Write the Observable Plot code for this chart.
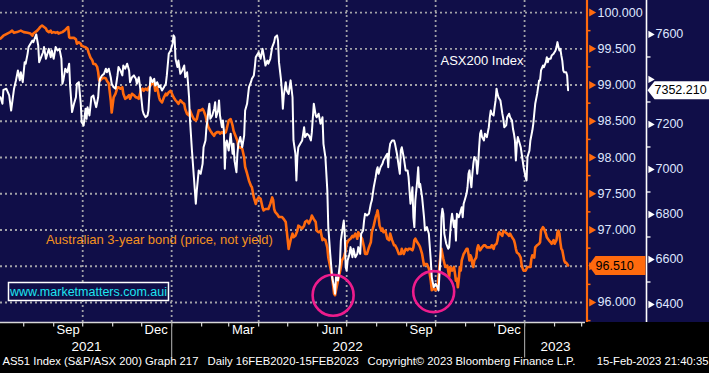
<!DOCTYPE html>
<html><head><meta charset="utf-8">
<script src="https://cdn.jsdelivr.net/npm/d3@7"></script>
<script src="https://cdn.jsdelivr.net/npm/@observablehq/plot@0.6"></script>
<style>
html,body{margin:0;padding:0;background:#000;}
#chart{width:709px;height:373px;background:linear-gradient(to bottom,#100e48 0px,#100e48 322px,#000 322px);}
svg{display:block;}
</style></head><body><div id="chart"></div>
<script>
// ---- data (days counted from 2021-07-08) ----
const startDay = Date.UTC(2021, 6, 8);
const asxDays = [
0,2,3,6,9,11,14,16,18,20,
21,23,25,26,28,29,31,33,34,37,
39,40,42,44,45,47,48,50,52,53,
55,57,59,61,63,64,65,67,69,71,
72,74,76,78,79,81,83,84,86,88,
89,90,92,94,96,98,99,101,102,103,
105,107,109,110,112,114,115,117,119,121,
122,124,126,127,129,131,133,134,136,138,
140,141,143,145,147,148,150,152,153,155,
157,159,160,162,164,165,167,169,171,172,
174,176,178,179,180,181,183,184,186,188,
190,191,193,194,195,196,198,200,202,203,
204,205,207,209,210,212,213,214,215,216,
217,219,221,222,223,225,226,227,229,230,
231,232,233,234,236,238,239,240,241,242,
244,245,246,248,250,252,253,255,257,259,
260,262,263,264,265,267,269,271,272,274,
276,277,279,281,283,284,286,287,288,290,
291,292,293,295,296,298,300,302,303,305,
306,307,308,310,312,314,315,317,319,321,
322,324,326,327,329,331,333,334,336,338,
339,341,343,345,346,347,349,351,352,354,
355,356,357,358,359,361,362,364,365,367,
369,370,372,373,375,376,377,379,381,383,
384,386,388,389,390,391,393,395,396,398,
400,401,402,403,405,407,408,410,412,413,
414,415,417,419,421,422,424,426,427,428,
429,431,432,433,434,436,438,439,441,443,
445,446,448,450,452,453,455,456,457,458,
459,461,463,464,465,466,467,469,470,471,
472,474,476,477,478,479,480,482,483,484,
485,486,487,488,489,490,492,493,494,495,
496,497,498,500,501,503,505,506,507,508,
510,511,512,513,514,515,517,519,520,521,
523,524,526,527,529,530,531,532,533,534,
535,537,538,539,540,541,543,544,545,546,
547,548,550,551,552,553,555,557,558,559,
561,562,564,565,566,567,569,570,572,574,
575,576,577,578,579,580,581,582,583,585,
586,587];
const asxValues = [
7321,7292,7354,7359,7329,7262,7359,7396,7440,7396,
7432,7388,7477,7470,7514,7544,7559,7573,7566,7600,
7551,7477,7499,7521,7544,7492,7507,7536,7499,7529,
7492,7544,7529,7536,7492,7381,7396,7448,7432,7470,
7373,7255,7292,7321,7381,7388,7292,7210,7196,7270,
7225,7277,7240,7321,7329,7292,7277,7321,7381,7403,
7418,7425,7448,7432,7448,7410,7381,7366,7359,7418,
7455,7440,7418,7462,7448,7470,7440,7388,7410,7418,
7403,7381,7410,7344,7262,7248,7232,7240,7262,7410,
7388,7403,7373,7388,7366,7373,7351,7366,7381,7418,
7514,7529,7559,7596,7588,7492,7455,7484,7425,7440,
7462,7410,7432,7381,7321,7218,7084,6966,6848,6907,
6951,6996,6981,7025,7099,7129,7188,7218,7262,7292,
7225,7240,7270,7299,7232,7262,7307,7240,7188,7218,
7173,7003,7114,7129,7084,7159,7114,7070,7114,7040,
6988,7070,7114,7144,7099,7151,7262,7292,7366,7388,
7403,7418,7455,7499,7507,7521,7492,7536,7514,7462,
7484,7470,7492,7544,7566,7588,7596,7573,7477,7403,
7351,7270,7329,7388,7351,7336,7396,7321,7129,7070,
6951,7055,7099,7114,7129,7188,7144,7159,7151,7129,
7166,7292,7240,7232,7248,7203,7232,7114,7055,6907,
6744,6625,6521,6477,6448,6521,6507,6581,6684,6744,
6773,6714,6566,6551,6596,6625,6655,6610,6648,6610,
6625,6655,6625,6714,6729,6773,6803,6796,6803,6848,
6862,6921,6966,6996,7010,6981,7010,7025,7040,7055,
7070,7010,7084,7114,7129,7129,7114,7070,7010,6981,
7084,7099,7055,6996,6996,6966,6848,6921,6788,6744,
6862,6951,7010,6921,6936,6877,6788,6729,6744,6714,
6596,6521,6477,6492,6477,6462,6610,6788,6825,6803,
6714,6670,6648,6655,6714,6773,6803,6744,6773,6684,
6803,6788,6818,6832,6788,6848,6862,6892,6921,6981,
6996,6951,6921,6981,7025,7055,7040,6981,7025,7099,
7159,7173,7144,7129,7159,7144,7188,7232,7262,7248,
7240,7277,7307,7359,7336,7321,7307,7248,7225,7188,
7196,7232,7248,7232,7218,7181,7159,7129,7040,7114,
7144,7114,7099,7070,7040,7010,6966,6951,7055,7070,
7084,7129,7173,7203,7248,7292,7336,7396,7396,7440,
7462,7455,7477,7499,7477,7492,7492,7507,7514,7529,
7544,7566,7544,7529,7536,7507,7484,7440,7432,7432,
7418,7352.21];
const bondDays = [
0,3,7,10,12,14,17,21,24,28,
31,33,34,38,40,41,43,45,47,48,
50,52,53,55,57,59,60,62,64,65,
67,69,70,71,72,76,78,79,81,83,
84,86,88,90,91,93,95,96,98,100,
101,102,103,105,107,109,110,112,114,115,
117,119,121,122,124,126,127,129,131,133,
134,136,138,140,141,143,145,147,148,150,
152,153,155,157,159,160,162,164,165,167,
169,171,172,174,176,178,179,181,183,184,
186,188,190,191,193,195,196,198,200,202,
203,205,207,209,210,212,214,215,217,219,
221,222,224,226,227,229,231,233,234,236,
238,239,240,241,243,245,246,248,250,252,
253,255,257,259,260,262,264,265,267,269,
271,272,274,276,277,279,281,282,283,284,
286,288,290,291,293,295,296,298,300,302,
303,305,307,308,310,312,314,315,317,319,
321,322,324,326,327,329,331,333,334,336,
338,339,341,343,345,346,347,349,351,352,
353,355,357,358,360,362,364,365,367,369,
370,372,374,376,377,379,381,383,384,386,
388,389,390,391,392,394,395,396,398,400,
402,403,405,407,408,410,412,414,415,417,
419,421,422,424,426,427,428,429,431,433,
434,436,438,439,441,443,445,446,448,450,
452,453,455,456,457,458,460,462,463,464,
465,467,469,470,471,472,473,474,475,476,
477,479,480,482,483,484,485,486,487,488,
489,490,492,493,494,495,496,498,500,501,
503,505,507,508,510,511,513,514,515,516,
517,519,520,522,524,526,527,529,531,532,
533,534,536,538,539,540,541,543,545,546,
548,549,550,552,553,555,557,558,559,561,
562,564,565,567,569,570,572,573,575,576,
577,578,579,580,581,583,584,585,586,587];
const bondValues = [
99.64,99.68,99.71,99.73,99.75,99.72,99.73,99.75,99.73,99.72,
99.71,99.68,99.71,99.75,99.78,99.80,99.82,99.80,99.78,99.75,
99.73,99.75,99.72,99.73,99.72,99.73,99.71,99.72,99.73,99.74,
99.76,99.79,99.80,99.66,99.65,99.65,99.63,99.57,99.59,99.57,
99.54,99.53,99.52,99.50,99.45,99.38,99.34,99.29,99.29,99.25,
99.18,99.06,99.06,99.09,99.10,99.09,99.06,99.02,98.79,98.62,
98.83,98.88,98.97,98.97,98.95,98.97,98.88,98.81,98.83,98.86,
98.81,98.88,98.86,98.83,98.83,98.81,98.92,98.95,98.92,98.95,
98.93,98.96,98.99,99.02,99.02,98.92,98.97,98.83,98.79,98.76,
98.83,98.88,98.86,98.90,98.92,98.86,98.83,98.79,98.76,98.74,
98.79,98.76,98.74,98.67,98.60,98.58,98.65,98.58,98.53,98.51,
98.53,98.65,98.65,98.67,98.65,98.58,98.46,98.42,98.37,98.33,
98.30,98.33,98.35,98.35,98.33,98.35,98.33,98.35,98.40,98.51,
98.53,98.49,98.44,98.37,98.30,98.23,98.14,98.14,98.12,98.00,
97.87,97.78,97.68,97.61,97.59,97.45,97.36,97.41,97.45,97.43,
97.31,97.27,97.29,97.29,97.29,97.36,97.45,97.41,97.29,97.25,
97.22,97.18,97.18,97.18,97.15,97.11,96.99,96.74,96.86,96.95,
96.90,96.92,96.99,97.06,97.04,97.02,97.06,97.11,97.13,97.09,
97.15,97.20,97.15,97.11,96.99,96.97,96.99,96.86,96.88,96.86,
96.76,96.62,96.49,96.35,96.12,96.10,96.17,96.30,96.42,96.49,
96.58,96.62,96.72,96.81,96.86,96.88,96.92,96.90,96.95,96.88,
96.97,96.92,96.88,96.76,96.67,96.67,96.76,96.83,96.97,97.06,
97.18,97.22,97.27,97.18,97.06,96.99,97.02,96.97,96.99,96.88,
96.86,96.95,96.86,96.79,96.79,96.74,96.67,96.67,96.74,96.67,
96.74,96.72,96.74,96.74,96.72,96.76,96.86,96.88,96.83,96.79,
96.76,96.67,96.51,96.53,96.53,96.47,96.30,96.17,96.19,96.17,
96.21,96.36,96.65,96.74,96.67,96.60,96.49,96.51,96.44,96.35,
96.49,96.44,96.49,96.40,96.30,96.33,96.21,96.33,96.49,96.44,
96.58,96.67,96.69,96.74,96.74,96.67,96.58,96.65,96.62,96.53,
96.49,96.58,96.62,96.74,96.79,96.76,96.72,96.76,96.79,96.79,
96.76,96.76,96.76,96.79,96.74,96.79,96.81,96.86,96.95,96.97,
96.95,96.92,96.99,96.97,96.95,96.92,96.95,96.90,96.86,96.81,
96.74,96.69,96.67,96.62,96.51,96.47,96.44,96.44,96.49,96.49,
96.49,96.60,96.65,96.62,96.76,96.79,96.81,96.83,96.99,97.04,
97.02,96.95,96.90,96.86,96.83,96.81,96.86,96.81,96.86,96.97,
96.99,96.95,96.83,96.74,96.72,96.58,96.55,96.55,96.53,96.51];

const lastBond = 96.51;
const lastAsx = 7352.21;

const bondTicks = [96, 96.5, 97, 97.5, 98, 98.5, 99, 99.5, 100];
// tick labels visible in the reference (96.500 and 7400 sit under the last-value tags)
const bondTickLabels = [96, 97, 97.5, 98, 98.5, 99, 99.5, 100];
const bondMinorTicks = [95.75, 96.25, 96.75, 97.25, 97.75, 98.25, 98.75, 99.25, 99.75];
const asxTicks = [6400, 6600, 6800, 7000, 7200, 7400, 7600];
const asxTickLabels = [6400, 6600, 6800, 7000, 7200, 7600];
const asxMinorTicks = [6500, 6700, 6900, 7100, 7300, 7500];

const gridDates = ["2021-10-01","2022-01-01","2022-04-01","2022-07-01","2022-10-01","2023-01-01"];
const monthLabelDates = ["2021-09-16","2021-12-16","2022-03-16","2022-06-16","2022-09-16","2022-12-16"];
const monthLabels = ["Sep","Dec","Mar","Jun","Sep","Dec"];
const yearLabelDates = ["2021-10-05","2022-07-02","2023-02-02"];
const yearLabels = ["2021","2022","2023"];
const yearStarts = ["2022-01-01","2023-01-01"];

const circleDates = ["2022-06-17","2022-09-29"];
const circleValues = [96.10, 96.15];

const noteAsx = {date: "2022-10-06", value: 99.34, text: "ASX200 Index"};
const noteBond = {date: "2021-08-24", value: 96.86, text: "Australian 3-year bond (price, not yield)"};
const noteUrl = {date: "2021-10-07", value: 96.15, text: "www.marketmatters.com.aui"};

const footer1 = "AS51 Index (S&P/ASX 200) Graph 217";
const footer2 = "Daily 16FEB2020-15FEB2023";
const footer3 = "Copyright\u00A9 2023 Bloomberg Finance L.P.";
const footer4 = "15-Feb-2023 21:40:35";

// ---- scales ----
const xDomain = [new Date(Date.UTC(2021, 6, 8)), new Date(Date.UTC(2023, 2, 5))];
const yDomain = [95.724, 100.166];
const asxDomain = [6320, 7751];
const asxToBond = d3.scaleLinear().domain(asxDomain).range(yDomain);
const toDate = d => new Date(startDay + d * 864e5);

const bond = bondDays.map((d, i) => ({date: toDate(d), value: bondValues[i]}));
const asx = asxDays.map((d, i) => ({date: toDate(d), value: asxValues[i], y: asxToBond(asxValues[i])}));
const circles = circleDates.map((d, i) => ({date: new Date(d), value: circleValues[i]}));

// ---- colours ----
const orange = "#ff6a0e", grid = "#a2a2a8", labelColor = "#dfe6ff", pink = "#ee1c8c";
const noteOrange = "#f5921e", cyan = "#1ee4f0";

// ---- custom symbols ----
const hdash = len => ({draw(ctx){ ctx.moveTo(0, 0); ctx.lineTo(len, 0); }});
const vdash = len => ({draw(ctx){ ctx.moveTo(0, 0); ctx.lineTo(0, len); }});
const tag = (w, h) => ({draw(ctx){ ctx.moveTo(0, 0); ctx.lineTo(7, -h/2); ctx.lineTo(w, -h/2); ctx.lineTo(w, h/2); ctx.lineTo(7, h/2); ctx.closePath(); }});
const box = (w, h) => ({draw(ctx){ ctx.rect(-w/2, -h/2, w, h); }});

const chart = Plot.plot({
  width: 709, height: 373,
  marginTop: 0, marginLeft: 0, marginRight: 124, marginBottom: 51,
  style: {background: "transparent", fontFamily: "'Liberation Sans', Arial, sans-serif", overflow: "visible"},
  x: {type: "utc", domain: xDomain, axis: null},
  y: {domain: yDomain, axis: null},
  marks: [
    Plot.ruleY(bondTicks, {stroke: grid, strokeWidth: 1.8, strokeDasharray: "2,3"}),
    Plot.ruleX(gridDates.map(d => new Date(d)), {stroke: grid, strokeWidth: 1.8, strokeDasharray: "2,3"}),
    Plot.ruleY([yDomain[0]], {stroke: "#d8d8d8", strokeWidth: 1.5}),
    Plot.line(bond, {x: "date", y: "value", stroke: orange, strokeWidth: 2.6}),
    Plot.line(asx, {x: "date", y: "y", stroke: "#ffffff", strokeWidth: 2}),
    Plot.dot(circles, {x: "date", y: "value", r: 20.5, stroke: pink, strokeWidth: 2.6, fill: "none"}),
    Plot.text([noteAsx], {x: d => new Date(d.date), y: "value", text: "text", fill: "#ffffff", fontSize: 13, textAnchor: "start"}),
    Plot.text([noteBond], {x: d => new Date(d.date), y: "value", text: "text", fill: noteOrange, fontSize: 13, textAnchor: "start"}),
    Plot.dot([noteUrl], {x: d => new Date(d.date), y: "value", r: 1, symbol: box(160, 18), fill: "#100e48", stroke: "#ffffff", strokeWidth: 1.5}),
    Plot.text([noteUrl], {x: d => new Date(d.date), y: "value", text: "text", fill: cyan, fontSize: 12.5, textAnchor: "middle"}),
    // orange (bond) axis
    Plot.ruleX([xDomain[1]], {stroke: orange, strokeWidth: 2.2, dx: 1.5}),
    Plot.dot(bondMinorTicks, {y: d => d, frameAnchor: "right", dx: 1, r: 1, symbol: hdash(4), stroke: orange, strokeWidth: 1.5, fill: "none"}),
    Plot.dot(bondTicks, {y: d => d, frameAnchor: "right", dx: 6, r: 3, symbol: "triangle", rotate: 90, fill: orange, stroke: "none"}),
    Plot.text(bondTickLabels, {y: d => d, text: d => d3.format(".3f")(d), frameAnchor: "right", dx: 12, textAnchor: "start", fill: labelColor, fontSize: 12.5}),
    // white (ASX) axis
    Plot.ruleX([xDomain[1]], {stroke: "#ffffff", strokeWidth: 1.6, dx: 61}),
    Plot.dot(asxMinorTicks, {y: d => asxToBond(d), frameAnchor: "right", dx: 61, r: 1, symbol: hdash(4), stroke: "#ffffff", strokeWidth: 1.3, fill: "none"}),
    Plot.dot(asxTicks, {y: d => asxToBond(d), frameAnchor: "right", dx: 65, r: 2.7, symbol: "triangle", rotate: 90, fill: "#ffffff", stroke: "none"}),
    Plot.text(asxTickLabels, {y: d => asxToBond(d), text: d => String(d), frameAnchor: "right", dx: 70, textAnchor: "start", fill: labelColor, fontSize: 12.5}),
    // last value tags
    Plot.dot([lastBond], {y: d => d, frameAnchor: "right", dx: 3, r: 1, symbol: tag(57, 19), fill: orange, stroke: "none"}),
    Plot.text([lastBond], {y: d => d, text: d => d3.format(".3f")(d), frameAnchor: "right", dx: 10, textAnchor: "start", fill: "#000000", fontSize: 12.5}),
    Plot.dot([lastAsx], {y: d => asxToBond(d), frameAnchor: "right", dx: 62, r: 1, symbol: tag(63, 18), fill: "#ffffff", stroke: "none"}),
    Plot.text([lastAsx], {y: d => asxToBond(d), text: d => d3.format(".3f")(d), frameAnchor: "right", dx: 69, textAnchor: "start", fill: "#000000", fontSize: 12.5}),
    // bottom time axis
    Plot.dot(d3.utcMonth.range(xDomain[0], xDomain[1]), {x: d => d, frameAnchor: "bottom", r: 1, symbol: vdash(4), stroke: "#d8d8d8", strokeWidth: 1.2, fill: "none"}),
    Plot.dot(yearStarts.map(d => new Date(d)), {x: d => d, frameAnchor: "bottom", r: 1, symbol: vdash(35), stroke: "#9a9a9a", strokeWidth: 1.2, fill: "none"}),
    Plot.text(monthLabelDates.map((d, i) => ({date: new Date(d), label: monthLabels[i]})), {x: "date", text: "label", frameAnchor: "bottom", dy: 11, fill: "#ffffff", fontSize: 13}),
    Plot.text(yearLabelDates.map((d, i) => ({date: new Date(d), label: yearLabels[i]})), {x: "date", text: "label", frameAnchor: "bottom", dy: 28, fill: "#ffffff", fontSize: 13.5}),
    // footer
    Plot.text([footer1], {text: d => d, frameAnchor: "bottom-left", dx: 2, dy: 42, textAnchor: "start", fill: "#ffffff", fontSize: 11.3}),
    Plot.text([footer2], {text: d => d, frameAnchor: "bottom-left", dx: 207, dy: 42, textAnchor: "start", fill: "#ffffff", fontSize: 11.3}),
    Plot.text([footer3], {text: d => d, frameAnchor: "bottom-left", dx: 367, dy: 42, textAnchor: "start", fill: "#ffffff", fontSize: 11.3}),
    Plot.text([footer4], {text: d => d, frameAnchor: "bottom-right", dx: 123, dy: 42, textAnchor: "end", fill: "#ffffff", fontSize: 11.3})
  ]
});
document.getElementById("chart").appendChild(chart);
</script>
</body></html>
